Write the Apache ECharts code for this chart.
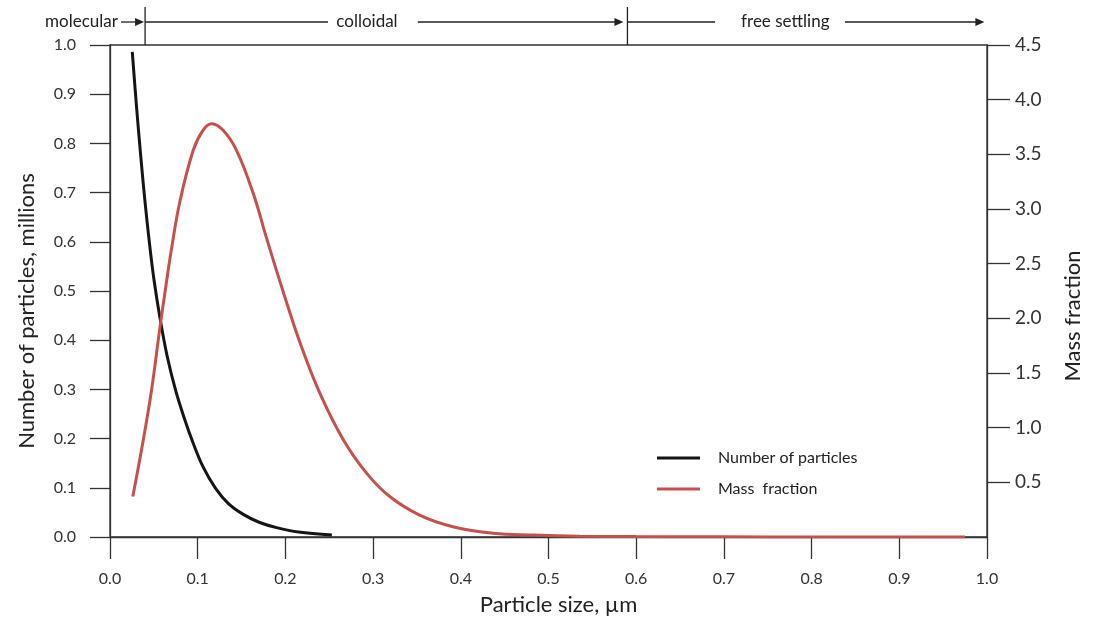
<!DOCTYPE html>
<html><head><meta charset="utf-8">
<script src="https://cdn.jsdelivr.net/npm/echarts@6/dist/echarts.min.js"></script>
<style>html,body{margin:0;padding:0;background:#fff}#c{width:1093px;height:624px}</style>
</head><body><div id="c"></div>
<script>
// Number of particles (millions) vs particle size (µm)
const sizesN  = [0.0254,0.030,0.035,0.040,0.045,0.050,0.057,0.065,0.075,0.085,0.095,0.106,0.120,0.135,0.152,0.170,0.190,0.215,0.253];
const countsN = [0.986, 0.880,0.775,0.680,0.597,0.525,0.445,0.369,0.297,0.240,0.190,0.143,0.100,0.068,0.046,0.030,0.019,0.010,0.004];
// Mass fraction vs particle size (µm)
const sizesM = [0.026,0.038,0.0475,0.057,0.064,0.070,0.080,0.095,0.106,0.116,0.129,0.144,0.163,0.179,0.198,0.217,0.239,0.266,0.293,0.319,0.353,0.391,0.437,0.483,0.536,0.60,0.70,0.80,0.975];
const massM  = [0.37, 0.89, 1.35,  1.92, 2.31, 2.63, 3.08, 3.54, 3.72, 3.78, 3.72, 3.54, 3.15, 2.72, 2.23, 1.77, 1.32, 0.89, 0.58, 0.37, 0.20, 0.094,0.034,0.018,0.008,0.004,0.002,0.0, 0.0];
// Tick values
const xTicks = [0,0.1,0.2,0.3,0.4,0.5,0.6,0.7,0.8,0.9,1.0];
const leftTicks = [0,0.1,0.2,0.3,0.4,0.5,0.6,0.7,0.8,0.9,1.0];
const rightTicks = [0.5,1.0,1.5,2.0,2.5,3.0,3.5,4.0,4.5];
// Regions (top annotation)
const regionNames = ['molecular','colloidal','free settling'];
const regionBounds = [0.04, 0.59];

const seriesNames = ['Number of particles','Mass fraction'];
const FONT = 'Lato, "Open Sans", sans-serif';
const INK = '#222';
const RED = '#c5504c';

const chart = echarts.init(document.getElementById('c'), null, {renderer:'canvas'});

const fmt1 = v => (+v).toFixed(1);

chart.setOption({
  animation:false,
  backgroundColor:'#fff',
  grid:{left:110,right:106,top:45,bottom:87,show:true,borderColor:'#333',borderWidth:1.3,backgroundColor:'transparent',outerBoundsMode:'none'},
  legend:{
    orient:'vertical', left:657, top:448, padding:0, itemGap:11, itemWidth:43, itemHeight:3,
    icon:'rect',
    data:seriesNames,
    formatter: n => n === 'Mass fraction' ? 'Mass  fraction' : n,
    textStyle:{fontFamily:FONT,fontSize:16,color:INK,padding:[0,0,0,13],lineHeight:20}
  },
  xAxis:{
    type:'value', min:0, max:1,
    name:'Particle size, µm', nameLocation:'middle', nameGap:57,
    nameTextStyle:{fontFamily:FONT,fontSize:22,color:INK,padding:[0,0,0,20]},
    axisLine:{show:true,lineStyle:{color:'#333',width:1.3}},
    axisTick:{show:true,length:22,customValues:xTicks,lineStyle:{color:'#333',width:1.3}},
    axisLabel:{customValues:xTicks,formatter:fmt1,margin:34,fontFamily:FONT,fontSize:16,color:'#333'},
    splitLine:{show:false}
  },
  yAxis:[{
    type:'value', min:0, max:1, position:'left',
    name:'Number of particles, millions', nameLocation:'middle', nameGap:72,
    nameTextStyle:{fontFamily:FONT,fontSize:22,color:INK,padding:[0,40,0,0]},
    axisLine:{show:true,lineStyle:{color:'#333',width:1.3}},
    axisTick:{show:true,length:20,customValues:leftTicks,lineStyle:{color:'#333',width:1.3}},
    axisLabel:{customValues:leftTicks,formatter:fmt1,margin:34,fontFamily:FONT,fontSize:16,color:'#333'},
    splitLine:{show:false}
  },{
    type:'value', min:0, max:4.5, position:'right',
    name:'Mass fraction', nameLocation:'middle', nameGap:75,
    nameTextStyle:{fontFamily:FONT,fontSize:22,color:INK,padding:[0,50,0,0]},
    axisLine:{show:true,lineStyle:{color:'#333',width:1.3}},
    axisTick:{show:true,length:23,customValues:rightTicks,lineStyle:{color:'#333',width:1.3}},
    axisLabel:{customValues:rightTicks,formatter:fmt1,margin:28,fontFamily:FONT,fontSize:19,color:'#333'},
    splitLine:{show:false}
  }],
  series:[{
    name:seriesNames[0], type:'line', yAxisIndex:0,
    data:sizesN.map((x,i)=>[x,countsN[i]]),
    smooth:0.35, showSymbol:false, symbol:'none',
    lineStyle:{color:'#151515',width:3}, itemStyle:{color:'#151515'}
  },{
    name:seriesNames[1], type:'line', yAxisIndex:1,
    data:sizesM.map((x,i)=>[x,massM[i]]),
    smooth:0.4, showSymbol:false, symbol:'none',
    lineStyle:{color:RED,width:3}, itemStyle:{color:RED}
  }]
});

// Top annotation drawn through the x axis scale
const P = v => chart.convertToPixel({xAxisIndex:0}, v);
const yA = 22, yTop = 7, yBot = 45;
const g = [];
const line = (a,b) => g.push({type:'line',shape:{x1:a,y1:yA,x2:b,y2:yA},style:{stroke:INK,lineWidth:1.3},silent:true});
const arrow = (a,b) => { line(a,b-6); g.push({type:'polygon',shape:{points:[[b,yA],[b-9,yA-4],[b-9,yA+4]]},style:{fill:INK},silent:true}); };
const text = (x,s,align) => g.push({type:'text',x:x,y:yA,style:{text:s,fontFamily:FONT,fontSize:17,fill:INK,align:align,verticalAlign:'middle'},silent:true});
regionBounds.forEach(b => g.push({type:'line',shape:{x1:P(b),y1:yTop,x2:P(b),y2:yBot},style:{stroke:INK,lineWidth:1.3},silent:true}));
// molecular
text(P(0.009), regionNames[0], 'right');
arrow(P(0.0125), P(regionBounds[0]) - 1);
// colloidal
line(P(regionBounds[0]), P(0.2486));
text(P(0.293), regionNames[1], 'center');
arrow(P(0.351), P(regionBounds[1]) - 4);
// free settling
line(P(regionBounds[1]), P(0.69));
text(P(0.77), regionNames[2], 'center');
arrow(P(0.838), P(0.997));
chart.setOption({graphic:g});
</script>
</body></html>
